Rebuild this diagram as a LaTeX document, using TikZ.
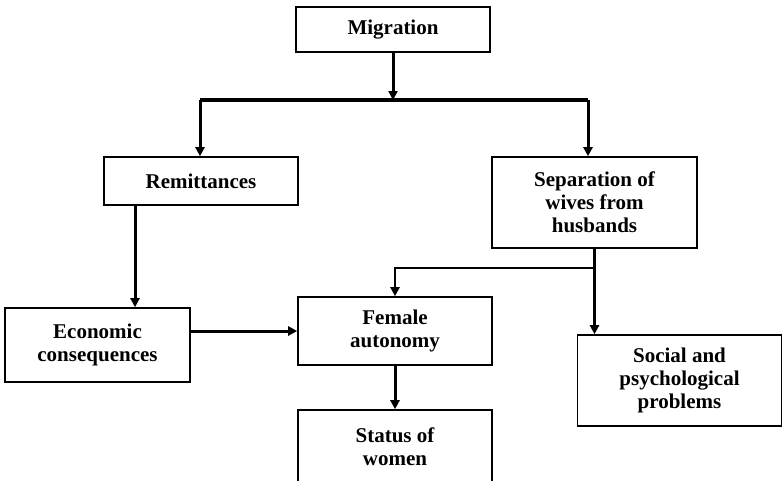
\documentclass[tikz,border=0pt]{standalone}
\usepackage{fontspec}
\setmainfont{Liberation Serif}
\usetikzlibrary{arrows.meta}

\begin{document}
\begin{tikzpicture}[x=1pt, y=-1pt, >={Triangle[length=9pt,width=9pt]},
    box/.style={draw, line width=1.6pt, align=center, inner sep=0pt,
      font=\fontsize{21}{23}\selectfont\bfseries},
    arr/.style={->, line width=3pt}]
    \useasboundingbox (0,0) rectangle (783,480);
    \node[box, minimum width=194, minimum height=45] (migr) at (393,29.5) {Migration};
    \node[box, minimum width=194, minimum height=48] (remit) at (201,181) {Remittances};
    \node[box, minimum width=205, minimum height=91] (sep) at (594.5,202.5)
    {Separation of\\wives from\\husbands};
    \node[box, minimum width=185, minimum height=74] (econ) at (97.5,345)
    {Economic\\consequences};
    \node[box, minimum width=194, minimum height=68] (fem) at (395,331)
    {Female\\autonomy};
    \node[box, minimum width=194, minimum height=74] (status) at (395,447)
    {Status of\\women};
    \node[box, minimum width=204, minimum height=91] (social) at (679.5,380.5)
    {Social and\\psychological\\problems};
    % split under migration
    \coordinate (bl) at (200,100);
    \coordinate (br) at (588,100);
    \draw[arr] (migr.south) -- (migr.south |- bl);
    \draw[line width=4.5pt] (bl) -- (br);
    \draw[arr] (bl) -- (bl |- remit.north);
    \draw[arr] (br) -- (br |- sep.north);
    \draw[arr] ([xshift=-66]remit.south) -- ([xshift=-66]remit.south |- econ.north);
    \draw[arr] (econ.east |- fem.west) -- (fem.west);
    \draw[arr] (sep.south) -- (sep.south |- social.north);
    \coordinate (j) at (595,268);
    \draw[->, line width=2.2pt] (j) -| (fem.north);
    \draw[arr] (fem) -- (status);
  \end{tikzpicture}
\end{document}
